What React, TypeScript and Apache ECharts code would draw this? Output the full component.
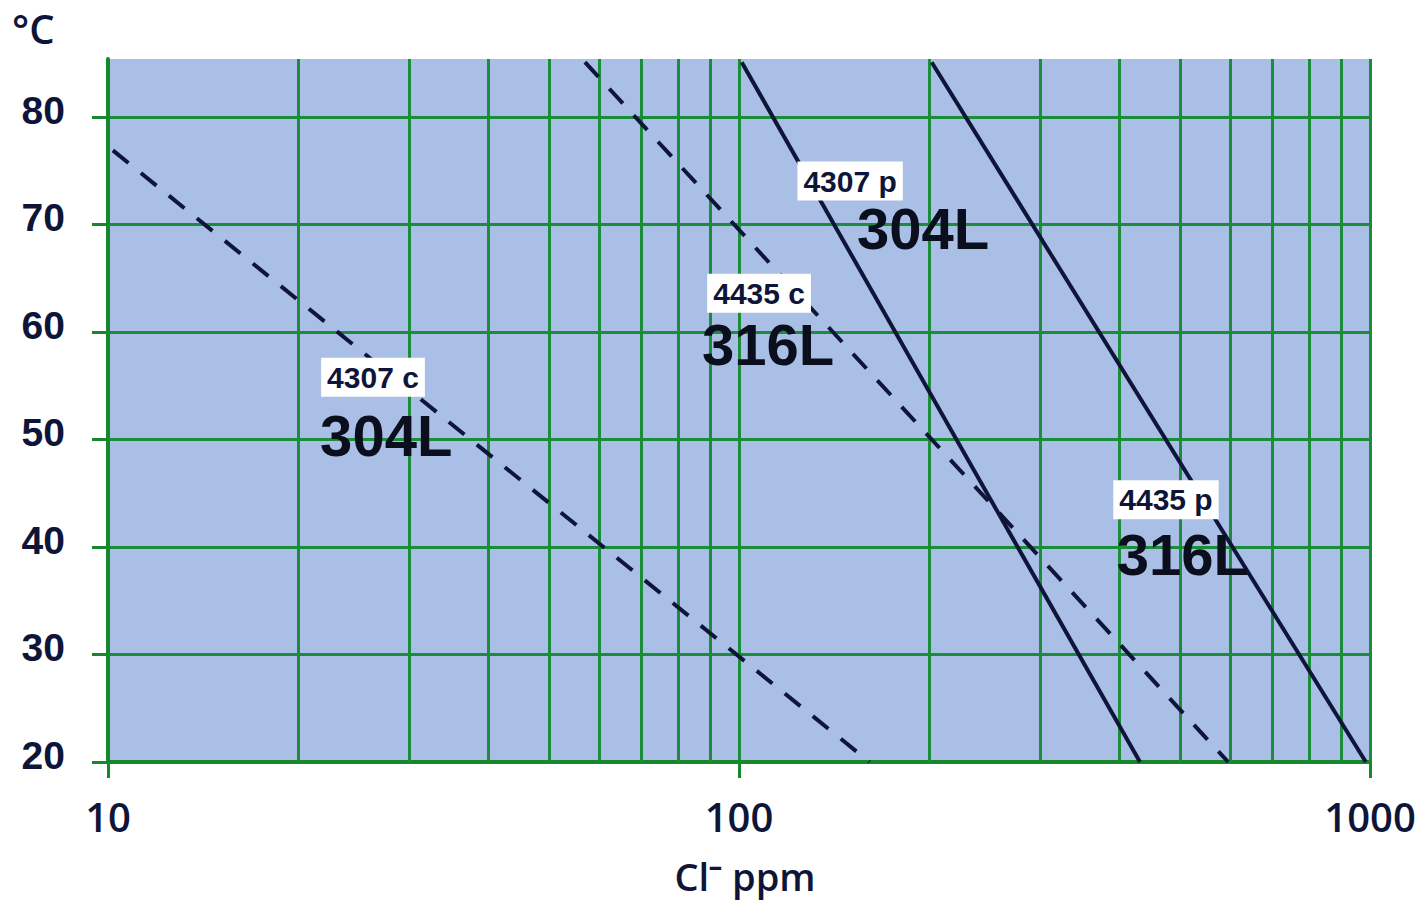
import React, { useEffect, useRef } from "react";
import * as echarts from "echarts";

// Tick values
const yTicks = [20, 30, 40, 50, 60, 70, 80];
const minorXGrid = [20, 30, 40, 50, 60, 70, 80, 90, 200, 300, 400, 500, 600, 700, 800, 900];

// Series: [Cl- ppm, °C]
const crevice304L = [[10.18, 76.9], [161, 20]];
const crevice316L = [[57, 85.1], [596, 20]];
const pitting304L = [[101, 85.1], [432, 20]];
const pitting316L = [[202, 85.1], [985, 20]];

// Annotation anchors (data coordinates)
const testLabels = [
  { text: "4307 p", x: 150, y: 74.05 },
  { text: "4307 c", x: 26.3, y: 55.8 },
  { text: "4435 c", x: 107.6, y: 63.6 },
  { text: "4435 p", x: 475, y: 44.4 },
];
const gradeLabels = [
  { text: "304L", x: 195.7, y: 69.6 },
  { text: "304L", x: 27.6, y: 50.4 },
  { text: "316L", x: 111.2, y: 58.8 },
  { text: "316L", x: 505, y: 39.3 },
];

const GREEN = "#1b8c3a";
const AXIS_GREEN = "#15882c";
const INK = "#0e1538";

export default function App() {
  const ref = useRef<HTMLDivElement>(null);
  useEffect(() => {
    if (!ref.current) return;
    const chart = echarts.init(ref.current, null, { renderer: "svg" });
    const lineSeries = (name: string, data: number[][], dashed: boolean) => ({
      name,
      type: "line",
      data,
      z: 10,
      symbol: "none",
      silent: true,
      lineStyle: { color: INK, width: 4, type: dashed ? [20, 16] : "solid" },
    });
    chart.setOption({
      animation: false,
      grid: {
        left: 108,
        right: 50,
        top: 59,
        bottom: 140,
        show: true,
        backgroundColor: "#a9bfe6",
        borderWidth: 0,
      },
      xAxis: {
        type: "log",
        logBase: 10,
        min: 10,
        max: 1000,
        axisLine: { show: true, lineStyle: { color: AXIS_GREEN, width: 4 } },
        axisTick: { show: true, length: 16, lineStyle: { color: AXIS_GREEN, width: 3 } },
        axisLabel: {
          fontSize: 40,
          fontFamily: "Open Sans",
          fontWeight: 600,
          color: INK,
          margin: 34,
          formatter: (v: number) => String(Math.round(v)),
        },
        splitLine: { show: true, lineStyle: { color: GREEN, width: 3 } },
        minorTick: { show: false },
        minorSplitLine: { show: false },
      },
      yAxis: {
        type: "value",
        min: 20,
        max: 85.4,
        interval: 10,
        axisLine: { show: true, lineStyle: { color: AXIS_GREEN, width: 4 } },
        axisTick: {
          show: true,
          length: 16,
          customValues: yTicks,
          lineStyle: { color: AXIS_GREEN, width: 3 },
        },
        axisLabel: {
          customValues: yTicks,
          fontSize: 39,
          fontFamily: "Liberation Sans",
          fontWeight: "bold",
          color: INK,
          margin: 43,
          verticalAlign: "bottom",
          lineHeight: 14,
        },
        splitLine: { show: true, lineStyle: { color: GREEN, width: 3 } },
      },
      graphic: [
        {
          type: "text",
          left: 12,
          top: 8,
          style: {
            text: "°C",
            fontSize: 40,
            fontFamily: "Open Sans",
            fontWeight: 600,
            fill: INK,
          },
        },
        {
          type: "text",
          x: 745,
          y: 876,
          style: {
            text: "Cl⁻ ppm",
            fontSize: 38,
            fontFamily: "Open Sans",
            fontWeight: 600,
            fill: INK,
            align: "center",
            verticalAlign: "middle",
          },
        },
      ],
      series: [
        {
          name: "grid",
          type: "line",
          data: [],
          z: 1,
          silent: true,
          markLine: {
            silent: true,
            z: 1,
            symbol: ["none", "none"],
            label: { show: false },
            lineStyle: { color: GREEN, width: 3, type: "solid" },
            data: minorXGrid.map((v) => ({ xAxis: v })),
          },
        },
        lineSeries("304L crevice", crevice304L, true),
        lineSeries("316L crevice", crevice316L, true),
        lineSeries("304L pitting", pitting304L, false),
        lineSeries("316L pitting", pitting316L, false),
        {
          name: "tests",
          type: "scatter",
          z: 20,
          silent: true,
          symbolSize: 1,
          itemStyle: { color: "rgba(0,0,0,0)", opacity: 1 },
          data: testLabels.map((d) => ({ value: [d.x, d.y], name: d.text })),
          label: {
            show: true,
            position: "inside",
            formatter: (p: any) => p.name,
            fontSize: 30,
            fontFamily: "Liberation Sans",
            fontWeight: "bold",
            color: INK,
            opacity: 1,
            backgroundColor: "#ffffff",
            padding: [5, 6, 4, 6],
          },
        },
        {
          name: "grades",
          type: "scatter",
          z: 20,
          silent: true,
          symbolSize: 1,
          itemStyle: { color: "rgba(0,0,0,0)", opacity: 1 },
          data: gradeLabels.map((d) => ({ value: [d.x, d.y], name: d.text })),
          label: {
            show: true,
            position: "inside",
            formatter: (p: any) => p.name,
            fontSize: 58,
            fontFamily: "Liberation Sans",
            fontWeight: "bold",
            color: "#0b0e1c",
            opacity: 1,
          },
        },
      ],
    });
    return () => chart.dispose();
  }, []);
  return (
    <div
      ref={ref}
      style={{ position: "absolute", left: 0, top: 0, width: 1420, height: 902, background: "#ffffff" }}
    />
  );
}
